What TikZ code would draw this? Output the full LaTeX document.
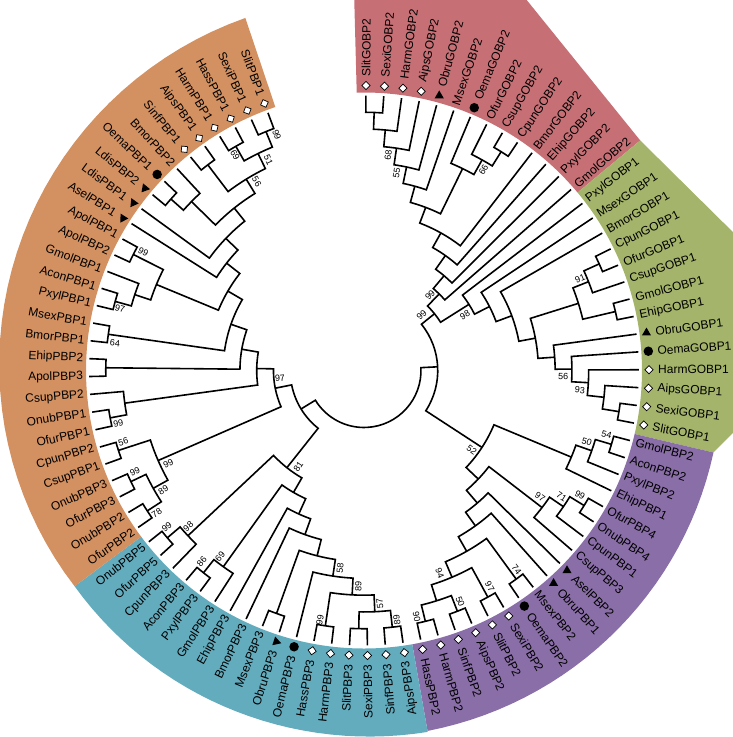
\documentclass[tikz,border=0pt]{standalone}
\usepackage{fontspec}
\setmainfont{Liberation Sans}
\usetikzlibrary{shapes.geometric}
\definecolor{cOr}{RGB}{211,144,96}
\definecolor{cRd}{RGB}{198,112,118}
\definecolor{cGr}{RGB}{164,180,106}
\definecolor{cPu}{RGB}{138,110,168}
\definecolor{cTe}{RGB}{98,172,190}
% join two children into a node of given height
\newcommand\tjoin[4]{%
  \pgfmathsetmacro\tja{(\csname tang#2\endcsname+\csname tang#3\endcsname)/2}%
  \pgfmathsetmacro\tjr{275-16.77*#4}%
  \expandafter\xdef\csname tang#1\endcsname{\tja}%
  \expandafter\xdef\csname trad#1\endcsname{\tjr}%
  \edef\tjb{\csname tang#2\endcsname}\edef\tjc{\csname tang#3\endcsname}%
  \edef\tjrb{\csname trad#2\endcsname}\edef\tjrc{\csname trad#3\endcsname}%
  \draw[br] (\tjb:\tjrb pt) -- (\tjb:\tjr pt) arc[start angle=\tjb, end angle=\tjc, radius=\tjr pt] -- (\tjc:\tjrc pt);%
}
% leaf label: index, text, marker (0 none,1 diamond,2 circle,3 triangle)
\newcommand\tlab[3]{%
  \pgfmathsetmacro\tla{89.6-3.727*#1}%
  \pgfmathsetmacro\tlb{\tla < -180 ? \tla+360 : \tla}%
  \pgfmathsetmacro\tlq{(\tlb > -80 && \tlb < 100) ? 1 : 0}%
  \ifnum#3=0 \def\tlr{281}\else\def\tlr{294}\fi
  \ifdim\tlq pt>0.5pt
    \let\tlrot\tlb\def\tlanc{west}\def\mkrot{0}%
  \else
    \pgfmathsetmacro\tlrot{\tlb+180}\def\tlanc{east}\let\mkrot\tlb
  \fi
  \node[leaf, anchor=\tlanc, rotate=\tlrot] at (\tlb:\tlr pt) {#2};%
  \ifcase#3\relax\or
    \node[dmk, rotate=\mkrot] at (\tlb:285pt) {};\or
    \node[cmk] at (\tlb:285pt) {};\or
    \node[tmk, rotate=\mkrot] at (\tlb:285pt) {};\fi
}
% support value: angle, radius, text
\newcommand\tsup[3]{%
  \pgfmathsetmacro\tsq{(#1 > -80 && #1 < 100) ? #1 : #1+180}%
  \node[sup, rotate=\tsq] at (#1:#2pt) {#3};%
}
\begin{document}
\begin{tikzpicture}[x=1pt,y=1pt,
  br/.style={line width=1.6pt, line join=miter},
  leaf/.style={font=\fontsize{12}{12}\selectfont, inner sep=0pt},
  sup/.style={font=\fontsize{9}{9}\selectfont, inner sep=0pt},
  dmk/.style={diamond, draw=black, fill=white, line width=0.7pt, inner sep=0pt, minimum width=8.5pt, minimum height=8.5pt},
  cmk/.style={circle, fill=black, inner sep=0pt, minimum size=9.5pt},
  tmk/.style={regular polygon, regular polygon sides=3, fill=black, inner sep=0pt, minimum size=10.5pt}]
\useasboundingbox (-364,-366.5) rectangle (369,370.5);
\clip (-364,-366.5) rectangle (369,370.5);
% ---------- coloured sectors ----------
\fill[cRd] (91.5:278pt) arc[start angle=91.5, end angle=39.8, radius=278pt] -- (39.8:359.5pt) -- (154.6,380.5) -- (-10,380.5) -- cycle;
\fill[cGr] (39.8:278pt) -- (39.8:359.5pt) -- (381,126.5) -- (381,-50.5) -- (-13.2:359pt) -- (-13.2:278pt) arc[start angle=-13.2, end angle=39.8, radius=278pt] -- cycle;
\fill[cPu] (-13.2:278pt) arc[start angle=-13.2, end angle=-80, radius=278pt] -- (-80:366pt) -- plot[domain=-80:-13.2, samples=30] (\x:{366-7*(\x+80)/66.8}) -- cycle;
\fill[cTe] (-80:278pt) arc[start angle=-80, end angle=-143.3, radius=278pt] -- (-143.3:361pt) -- plot[domain=-143.3:-80, samples=30] (\x:{361+6*(\x+143.3)/63.3}) -- cycle;
\fill[cOr] (-143.3:278pt) arc[start angle=-143.3, end angle=-251.4, radius=278pt] -- (-251.4:372pt) -- plot[domain=-251.4:-143.3, samples=40] (\x:{372-11*(\x+251.4)/108.1}) -- cycle;
% ---------- leaf angles ----------
\foreach \i in {0,...,91}{%
  \pgfmathsetmacro\tmpa{89.6-3.727*\i}%
  \expandafter\xdef\csname tangL\i\endcsname{\tmpa}%
  \expandafter\xdef\csname tradL\i\endcsname{275}}
% ---------- GOBP2 ----------
\tjoin{A1}{L0}{L1}{1}
\tjoin{A2}{A1}{L2}{2}
\tjoin{A3}{A2}{L3}{3}
\tjoin{A4}{A3}{L4}{4}
\tjoin{A5}{A4}{L5}{5}
\tjoin{B1}{L8}{L9}{1}
\tjoin{B2}{L7}{B1}{2}
\tjoin{B3}{L6}{B2}{3}
\tjoin{A6}{A5}{B3}{6}
\tjoin{A7}{A6}{L10}{7}
\tjoin{A8}{A7}{L11}{8}
\tjoin{A9}{A8}{L12}{9}
\tjoin{A10}{A9}{L13}{10}
% ---------- GOBP1 ----------
\tjoin{C1}{L17}{L18}{1}
\tjoin{C2}{C1}{L19}{2}
\tjoin{C3}{L20}{L21}{1}
\tjoin{C4}{C2}{C3}{3}
\tjoin{D1}{L26}{L27}{1}
\tjoin{D2}{L25}{D1}{2}
\tjoin{D3}{L24}{D2}{3}
\tjoin{D4}{L23}{D3}{4}
\tjoin{D5}{L22}{D4}{5}
\tjoin{C6}{C4}{D5}{6}
\tjoin{E1}{L16}{C6}{7}
\tjoin{E2}{L15}{E1}{8}
\tjoin{E3}{L14}{E2}{9}
\tjoin{G}{A10}{E3}{11}
% ---------- PBP2 ----------
\tjoin{F1}{L28}{L29}{1}
\tjoin{F2}{F1}{L30}{2}
\tjoin{F3}{F2}{L31}{3}
\tjoin{G1}{L32}{L33}{1}
\tjoin{G2}{G1}{L34}{2}
\tjoin{G3}{G2}{L35}{3}
\tjoin{H1}{L38}{L39}{1}
\tjoin{J1}{L40}{L41}{1}
\tjoin{J2}{L42}{L43}{1}
\tjoin{J3}{L44}{L45}{1}
\tjoin{J4}{J2}{J3}{2}
\tjoin{J5}{J1}{J4}{3}
\tjoin{O}{H1}{J5}{4}
\tjoin{N}{L37}{O}{5}
\tjoin{M}{L36}{N}{6}
\tjoin{KL}{G3}{M}{7}
\tjoin{K}{F3}{KL}{8}
\tjoin{B}{G}{K}{12}
% ---------- PBP3 ----------
\tjoin{Pa}{L50}{L51}{1}
\tjoin{Pb}{L46}{L47}{1}
\tjoin{Pe}{L48}{L49}{1}
\tjoin{Pf}{Pb}{Pe}{2}
\tjoin{Pg}{Pf}{Pa}{3}
\tjoin{Ph}{Pg}{L52}{4}
\tjoin{Pj}{L53}{L54}{1}
\tjoin{Pi}{Ph}{Pj}{5}
\tjoin{Pk}{Pi}{L55}{6}
\tjoin{Pl}{Pk}{L56}{7}
\tjoin{Pn}{L58}{L59}{1}
\tjoin{Po}{L57}{Pn}{2}
\tjoin{Pm}{Pl}{Po}{8}
\tjoin{Pr}{L61}{L62}{1}
\tjoin{Pp}{L60}{Pr}{2}
\tjoin{Pq}{Pm}{Pp}{9}
% ---------- PBP1 ----------
\tjoin{Qb}{L63}{L64}{1}
\tjoin{Qa}{L65}{L66}{1}
\tjoin{Qc}{Qb}{Qa}{2}
\tjoin{Qd}{L67}{L68}{1}
\tjoin{Qe}{Qc}{Qd}{3}
\tjoin{Qf}{L69}{L70}{1}
\tjoin{Qg}{Qf}{L71}{2}
\tjoin{Qh}{L72}{L73}{1}
\tjoin{Qk}{L74}{L75}{1}
\tjoin{Qj}{L76}{L77}{1}
\tjoin{Qu}{Qj}{L78}{2}
\tjoin{Qi}{L79}{L80}{1}
\tjoin{QU}{Qu}{Qi}{3}
\tjoin{QR}{L83}{L84}{1}
\tjoin{QQ}{QR}{L85}{2}
\tjoin{Qsa}{L86}{L87}{1}
\tjoin{Qsb}{L88}{L89}{1}
\tjoin{Qsc}{L90}{L91}{1}
\tjoin{Qsd}{Qsb}{Qsc}{2}
\tjoin{Qse}{Qsa}{Qsd}{3}
\tjoin{QS}{QQ}{Qse}{4}
\tjoin{QSp}{L82}{QS}{5}
\tjoin{QT}{L81}{QSp}{6}
\tjoin{QV}{QU}{QT}{7}
\tjoin{QW}{Qk}{QV}{8}
\tjoin{QZ}{Qh}{QW}{9}
\tjoin{QY}{Qg}{QZ}{10}
\tjoin{QX}{Qe}{QY}{11}
\tjoin{Q}{Pq}{QX}{12}
\tjoin{R}{B}{Q}{13}
% ---------- leaf labels ----------
\tlab{0}{SlitGOBP2}{1}\tlab{1}{SexiGOBP2}{1}\tlab{2}{HarmGOBP2}{1}\tlab{3}{AipsGOBP2}{1}
\tlab{4}{ObruGOBP2}{3}\tlab{5}{MsexGOBP2}{0}\tlab{6}{OemaGOBP2}{2}\tlab{7}{OfurGOBP2}{0}
\tlab{8}{CsupGOBP2}{0}\tlab{9}{CpunGOBP2}{0}\tlab{10}{BmorGOBP2}{0}\tlab{11}{EhipGOBP2}{0}
\tlab{12}{PxylGOBP2}{0}\tlab{13}{GmolGOBP2}{0}
\tlab{14}{PxylGOBP1}{0}\tlab{15}{MsexGOBP1}{0}\tlab{16}{BmorGOBP1}{0}\tlab{17}{CpunGOBP1}{0}
\tlab{18}{OfurGOBP1}{0}\tlab{19}{CsupGOBP1}{0}\tlab{20}{GmolGOBP1}{0}\tlab{21}{EhipGOBP1}{0}
\tlab{22}{ObruGOBP1}{3}\tlab{23}{OemaGOBP1}{2}\tlab{24}{HarmGOBP1}{1}\tlab{25}{AipsGOBP1}{1}
\tlab{26}{SexiGOBP1}{1}\tlab{27}{SlitGOBP1}{1}
\tlab{28}{GmolPBP2}{0}\tlab{29}{AconPBP2}{0}\tlab{30}{PxylPBP2}{0}\tlab{31}{EhipPBP1}{0}
\tlab{32}{OfurPBP4}{0}\tlab{33}{OnubPBP4}{0}\tlab{34}{CpunPBP1}{0}\tlab{35}{CsupPBP3}{0}
\tlab{36}{AselPBP2}{3}\tlab{37}{ObruPBP1}{3}\tlab{38}{MsexPBP2}{0}\tlab{39}{OemaPBP2}{2}
\tlab{40}{SexiPBP2}{1}\tlab{41}{SlitPBP2}{1}\tlab{42}{AipsPBP2}{1}\tlab{43}{SinfPBP2}{1}
\tlab{44}{HarmPBP2}{1}\tlab{45}{HassPBP2}{1}
\tlab{46}{AipsPBP3}{1}\tlab{47}{SinfPBP3}{1}\tlab{48}{SexiPBP3}{1}\tlab{49}{SlitPBP3}{1}
\tlab{50}{HarmPBP3}{1}\tlab{51}{HassPBP3}{1}\tlab{52}{OemaPBP3}{2}\tlab{53}{ObruPBP3}{3}
\tlab{54}{MsexPBP3}{0}\tlab{55}{BmorPBP3}{0}\tlab{56}{EhipPBP3}{0}\tlab{57}{GmolPBP3}{0}
\tlab{58}{PxylPBP3}{0}\tlab{59}{AconPBP3}{0}\tlab{60}{CpunPBP3}{0}\tlab{61}{OfurPBP5}{0}
\tlab{62}{OnubPBP5}{0}
\tlab{63}{OfurPBP2}{0}\tlab{64}{OnubPBP2}{0}\tlab{65}{OfurPBP3}{0}\tlab{66}{OnubPBP3}{0}
\tlab{67}{CsupPBP1}{0}\tlab{68}{CpunPBP2}{0}\tlab{69}{OfurPBP1}{0}\tlab{70}{OnubPBP1}{0}
\tlab{71}{CsupPBP2}{0}\tlab{72}{ApolPBP3}{0}\tlab{73}{EhipPBP2}{0}\tlab{74}{BmorPBP1}{0}
\tlab{75}{MsexPBP1}{0}\tlab{76}{PxylPBP1}{0}\tlab{77}{AconPBP1}{0}\tlab{78}{GmolPBP1}{0}
\tlab{79}{ApolPBP2}{0}\tlab{80}{ApolPBP1}{0}\tlab{81}{AselPBP1}{3}\tlab{82}{LdisPBP1}{3}
\tlab{83}{LdisPBP2}{3}\tlab{84}{OemaPBP1}{2}\tlab{85}{BmorPBP2}{0}\tlab{86}{SinfPBP1}{1}
\tlab{87}{AipsPBP1}{1}\tlab{88}{HarmPBP1}{1}\tlab{89}{HassPBP1}{1}\tlab{90}{SexiPBP1}{1}
\tlab{91}{SlitPBP1}{1}
% ---------- support values ----------
\tsup{83.6}{216.9}{68}
\tsup{80.6}{199.9}{55}
\tsup{59.2}{233.3}{66}
\tsup{48.8}{100.3}{99}
\tsup{43.9}{80}{99}
\tsup{28.8}{115.2}{98}
\tsup{23.1}{234.9}{91}
\tsup{-1.8}{199.4}{56}
\tsup{-5.2}{216.9}{93}
\tsup{-14.9}{251}{54}
\tsup{-17.7}{233.8}{50}
\tsup{-36.4}{133.9}{52}
\tsup{-35.6}{216.6}{97}
\tsup{-32.6}{234.5}{71}
\tsup{-30}{249.3}{99}
\tsup{-52.6}{251.2}{74}
\tsup{-59.8}{250.2}{97}
\tsup{-67.4}{250.3}{50}
\tsup{-69.5}{216.6}{94}
\tsup{-77.9}{251.8}{90}
\tsup{-82.5}{251.6}{89}
\tsup{-86.1}{233.4}{57}
\tsup{-91.5}{216.3}{89}
\tsup{-100}{253.3}{99}
\tsup{-96.9}{199.3}{58}
\tsup{-124.3}{116.5}{81}
\tsup{-127.7}{235.4}{69}
\tsup{-130.3}{250.8}{86}
\tsup{-138.4}{235.1}{98}
\tsup{-141.6}{251.7}{99}
\tsup{-145.4}{251.7}{78}
\tsup{-149.2}{233.6}{89}
\tsup{-156.2}{250.4}{99}
\tsup{-154.6}{216.6}{99}
\tsup{-163.5}{251}{56}
\tsup{-167.9}{251.3}{99}
\tsup{-174.7}{84.4}{97}
\tsup{173.8}{250.5}{64}
\tsup{165.7}{251.8}{97}
\tsup{151.7}{250.6}{99}
\tsup{119.6}{217.2}{56}
\tsup{114.4}{231.2}{51}
\tsup{120.9}{251.2}{69}
\tsup{110.3}{251.2}{99}
\end{tikzpicture}
\end{document}
